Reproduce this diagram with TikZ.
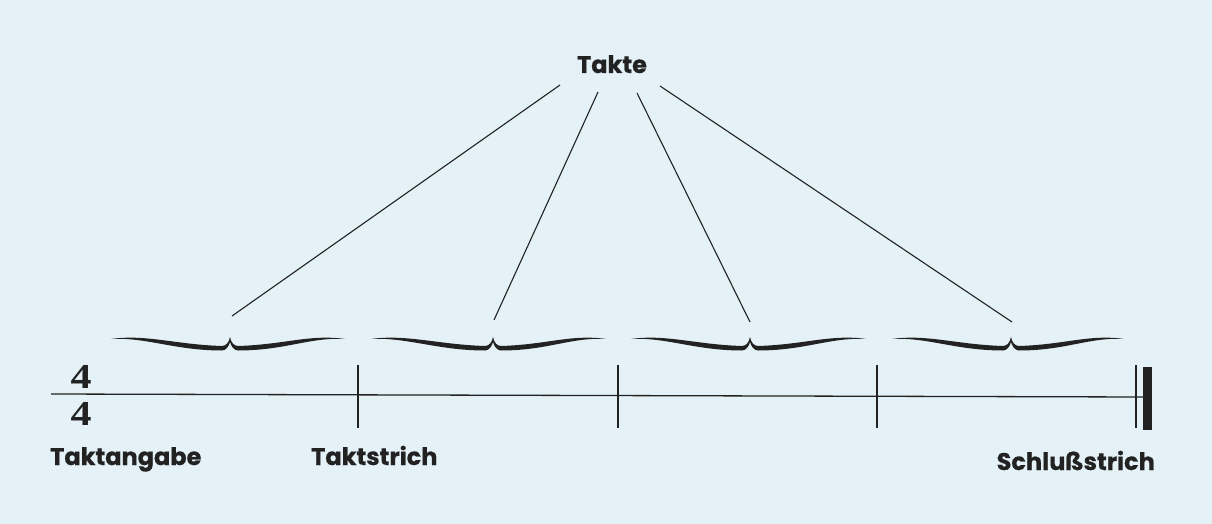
\documentclass[tikz,border=0pt]{standalone}
\usepackage{fontspec}
\newfontfamily\labfont{Poppins}[BoldFeatures={FakeBold=0.6}]
\newfontfamily\tsfont{Liberation Serif}
\definecolor{bgblue}{HTML}{E4F1F6}
\definecolor{ink}{HTML}{222222}
\newcommand{\tbrace}[3]{%
 \fill[ink] (#1,339) .. controls (#1+35,334) and (#2-55,344.5) .. (#2-8,346)
   .. controls (#2-4,346) and (#2-1,342.5) .. (#2,337)
   .. controls (#2+1,342.5) and (#2+4,346) .. (#2+8,346)
   .. controls (#2+55,344.5) and (#3-35,334) .. (#3,339)
   .. controls (#3-35,337) and (#2+55,350.5) .. (#2+8,350.5)
   .. controls (#2+4,350.5) and (#2+1,346) .. (#2,342)
   .. controls (#2-1,346) and (#2-4,350.5) .. (#2-8,350.5)
   .. controls (#2-55,350.5) and (#1+35,337) .. (#1,339) -- cycle;}
\begin{document}
\begin{tikzpicture}[x=1pt,y=-1pt,
  lbl/.style={font=\labfont\bfseries\fontsize{24}{28}\selectfont, text=ink, inner sep=0pt},
  tsig/.style={inner sep=0pt, text=ink, font=\tsfont\bfseries\fontsize{35}{35}\selectfont},
  staff/.style={draw=ink, line width=1.3pt},
  bar/.style={draw=ink, line width=1.2pt},
  pointer/.style={draw=ink, line width=1.1pt}]
\fill[bgblue] (0,0) rectangle (1212,524);
\useasboundingbox (0,0) rectangle (1212,524);
% staff line
\coordinate (sl) at (51,394);
\coordinate (sr) at (1144,397);
\draw[staff] (sl) -- (sr);
% time signature
\node[tsig] (ts1) at (81,376.5) {\scalebox{1.2}[1]{4}};
\node[tsig] (ts2) at (81,414) {\scalebox{1.2}[1]{4}};
% barlines
\foreach \x/\n in {358/b1, 618/b2, 877/b3, 1136/b4}{
  \coordinate (\n t) at (\x,365);
  \coordinate (\n b) at (\x,428);
  \draw[bar] (\n t) -- (\n b);
}
\fill[ink] (1143,367) rectangle (1152,430);
% braces
\tbrace{111}{230}{345}
\tbrace{371}{493}{606}
\tbrace{631}{750}{866}
\tbrace{892}{1011}{1124}
\coordinate (e1) at (232,316);
\coordinate (e2) at (494,320);
\coordinate (e3) at (750,322);
\coordinate (e4) at (1012,322);
% Takte label and pointers
\node[lbl, anchor=base] (takte) at (612,73) {Takte};
\coordinate (s1) at (560,85);
\coordinate (s2) at (598,92);
\coordinate (s3) at (637,93);
\coordinate (s4) at (660,86);
\draw[pointer] (s1) -- (e1);
\draw[pointer] (s2) -- (e2);
\draw[pointer] (s3) -- (e3);
\draw[pointer] (s4) -- (e4);
% labels
\node[lbl, anchor=base west] (taktangabe) at (50,465) {Taktangabe};
\node[lbl, anchor=base west] (taktstrich) at (311,465) {Taktstrich};
\node[lbl, anchor=base east] (schluss) at (1155,470) {Schlußstrich};
\end{tikzpicture}
\end{document}
